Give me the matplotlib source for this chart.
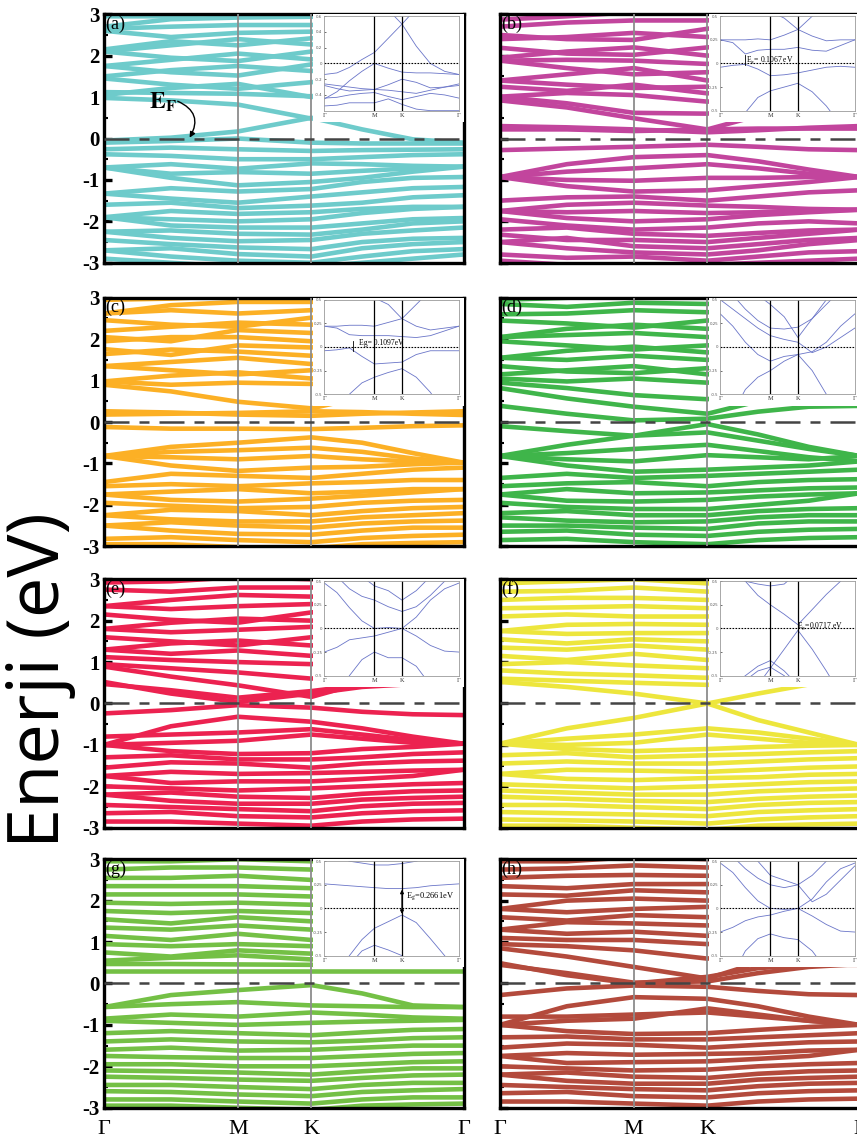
import matplotlib
matplotlib.use("Agg")
import matplotlib.pyplot as plt
from matplotlib.patches import Rectangle

plt.rcParams["mathtext.fontset"] = "stix"
SERIF = ["Liberation Serif", "DejaVu Serif"]

# k-path: Gamma - M - K - Gamma (normalised length)
k_path = [0.0, 0.186, 0.372, 0.577, 0.718, 0.859, 1.0]
k_inset = [0.0, 0.093, 0.186, 0.279, 0.372, 0.475, 0.577, 0.683, 0.788, 0.894, 1.0]
k_M, k_K = 0.372, 0.577
k_labels = ["Γ", "M", "K", "Γ"]

# ---------------- band energies (eV) at the k_path points ----------------
bands_a = [
    [-0.05, 0.02, 0.17, 0.50, 0.22, -0.02, -0.10],
    [-0.10, -0.06, 0.00, -0.10, -0.12, -0.12, -0.12],
    [0.98, 0.92, 0.82, 0.48, 0.80, 1.10, 1.30],
    [1.12, 1.10, 1.08, 1.02, 1.20, 1.40, 1.50],
    [1.05, 1.22, 1.32, 1.00, 1.30, 1.50, 1.60],
    [1.45, 1.30, 1.20, 1.36, 1.50, 1.60, 1.70],
    [1.50, 1.65, 1.75, 1.63, 1.70, 1.80, 1.80],
    [1.75, 1.60, 1.52, 1.79, 1.80, 1.90, 1.90],
    [1.75, 1.90, 2.05, 1.91, 2.00, 2.00, 2.00],
    [2.10, 1.95, 1.87, 2.10, 2.10, 2.10, 2.10],
    [2.10, 2.25, 2.40, 2.27, 2.30, 2.30, 2.30],
    [2.15, 2.35, 2.25, 2.42, 2.50, 2.50, 2.50],
    [2.60, 2.45, 2.55, 2.58, 2.60, 2.60, 2.60],
    [2.65, 2.70, 2.74, 2.74, 2.80, 2.80, 2.80],
    [2.70, 2.88, 2.92, 2.94, 3.00, 3.00, 3.00],
    [2.95, 2.95, 3.05, 3.10, 3.10, 3.10, 3.10],
    [-0.26, -0.22, -0.26, -0.30, -0.28, -0.27, -0.26],
    [-0.38, -0.42, -0.50, -0.50, -0.45, -0.40, -0.38],
    [-0.70, -0.62, -0.73, -0.60, -0.62, -0.66, -0.68],
    [-0.70, -0.85, -0.81, -0.85, -0.78, -0.72, -0.68],
    [-0.70, -0.95, -1.13, -1.05, -0.95, -0.80, -0.68],
    [-1.33, -1.20, -1.28, -1.22, -1.05, -0.95, -0.93],
    [-1.33, -1.45, -1.55, -1.40, -1.30, -1.20, -1.17],
    [-1.60, -1.55, -1.68, -1.62, -1.55, -1.42, -1.37],
    [-1.90, -1.75, -1.82, -1.78, -1.70, -1.65, -1.65],
    [-1.90, -1.95, -2.00, -1.95, -1.80, -1.70, -1.65],
    [-1.90, -2.10, -2.15, -2.15, -2.05, -1.95, -1.92],
    [-2.25, -2.22, -2.30, -2.32, -2.20, -2.05, -2.00],
    [-2.25, -2.40, -2.48, -2.45, -2.30, -2.22, -2.15],
    [-2.45, -2.55, -2.63, -2.67, -2.50, -2.42, -2.40],
    [-2.70, -2.65, -2.79, -2.85, -2.65, -2.55, -2.50],
    [-2.70, -2.85, -2.95, -3.00, -2.85, -2.72, -2.67],
    [-2.90, -3.00, -3.10, -3.10, -3.00, -2.90, -2.80],
]

bands_b = [
    [0.30, 0.27, 0.22, 0.15, 0.20, 0.26, 0.30],
    [0.22, 0.22, 0.18, 0.22, 0.24, 0.24, 0.24],
    [0.92, 0.75, 0.49, 0.22, 0.55, 0.80, 1.00],
    [1.01, 0.85, 0.62, 0.60, 0.80, 1.00, 1.10],
    [1.01, 1.10, 1.05, 0.89, 1.00, 1.10, 1.20],
    [1.25, 1.15, 1.30, 1.09, 1.20, 1.30, 1.40],
    [1.40, 1.30, 1.22, 1.25, 1.40, 1.50, 1.60],
    [1.40, 1.55, 1.70, 1.40, 1.50, 1.60, 1.70],
    [1.88, 1.70, 1.55, 1.60, 1.70, 1.80, 1.90],
    [1.88, 1.90, 1.88, 1.80, 1.90, 2.00, 2.10],
    [1.95, 2.10, 2.20, 2.00, 2.10, 2.20, 2.30],
    [2.19, 2.05, 2.02, 2.20, 2.30, 2.40, 2.50],
    [2.40, 2.45, 2.55, 2.45, 2.60, 2.60, 2.70],
    [2.50, 2.40, 2.38, 2.65, 2.80, 2.80, 2.80],
    [2.70, 2.80, 2.85, 2.85, 3.00, 3.00, 3.00],
    [2.87, 2.95, 3.05, 3.05, 3.10, 3.10, 3.10],
    [-0.28, -0.24, -0.20, -0.15, -0.20, -0.26, -0.28],
    [-0.93, -0.62, -0.45, -0.40, -0.55, -0.75, -0.93],
    [-0.93, -0.80, -0.72, -0.62, -0.72, -0.85, -0.93],
    [-0.93, -1.00, -1.02, -0.95, -0.95, -0.93, -0.93],
    [-0.93, -1.15, -1.28, -1.25, -1.15, -1.05, -0.93],
    [-1.50, -1.42, -1.40, -1.50, -1.40, -1.30, -1.25],
    [-1.75, -1.60, -1.55, -1.62, -1.65, -1.70, -1.72],
    [-1.75, -1.78, -1.75, -1.80, -1.78, -1.74, -1.72],
    [-1.75, -1.92, -2.00, -1.95, -1.85, -1.78, -1.72],
    [-1.95, -2.10, -2.20, -2.15, -2.05, -2.00, -2.05],
    [-2.20, -2.15, -2.30, -2.35, -2.28, -2.22, -2.20],
    [-2.32, -2.45, -2.45, -2.50, -2.40, -2.30, -2.20],
    [-2.50, -2.40, -2.60, -2.65, -2.55, -2.45, -2.40],
    [-2.50, -2.65, -2.75, -2.80, -2.70, -2.55, -2.45],
    [-2.80, -2.88, -2.85, -2.95, -2.85, -2.75, -2.72],
    [-2.95, -3.05, -3.05, -3.05, -3.00, -2.95, -2.90],
]

bands_c = [
    [0.26, 0.23, 0.18, 0.15, 0.20, 0.23, 0.26],
    [0.18, 0.20, 0.22, 0.26, 0.24, 0.20, 0.17],
    [0.90, 0.74, 0.49, 0.33, 0.60, 0.85, 1.00],
    [0.98, 0.90, 0.95, 0.92, 1.00, 1.10, 1.20],
    [0.98, 1.12, 1.20, 1.05, 1.20, 1.30, 1.40],
    [1.35, 1.25, 1.15, 1.25, 1.40, 1.50, 1.60],
    [1.35, 1.45, 1.55, 1.40, 1.50, 1.60, 1.70],
    [1.64, 1.75, 1.70, 1.60, 1.70, 1.80, 1.90],
    [1.76, 1.62, 1.85, 1.80, 1.90, 2.00, 2.00],
    [1.95, 2.05, 2.05, 1.95, 2.00, 2.10, 2.10],
    [2.05, 1.95, 2.22, 2.15, 2.20, 2.30, 2.30],
    [2.20, 2.30, 2.40, 2.35, 2.40, 2.50, 2.50],
    [2.46, 2.35, 2.30, 2.52, 2.60, 2.60, 2.60],
    [2.62, 2.70, 2.62, 2.70, 2.80, 2.80, 2.80],
    [2.62, 2.82, 2.90, 2.90, 3.00, 3.00, 3.00],
    [2.95, 2.98, 3.05, 3.05, 3.10, 3.10, 3.10],
    [-0.12, -0.16, -0.16, -0.17, -0.14, -0.10, -0.08],
    [-0.82, -0.60, -0.50, -0.37, -0.50, -0.75, -0.98],
    [-0.82, -0.85, -0.90, -0.82, -0.90, -0.95, -0.98],
    [-0.82, -0.72, -0.68, -0.62, -0.72, -0.88, -0.98],
    [-0.82, -1.05, -1.18, -1.10, -1.08, -1.02, -0.98],
    [-1.45, -1.25, -1.30, -1.35, -1.25, -1.15, -1.10],
    [-1.55, -1.50, -1.55, -1.48, -1.45, -1.40, -1.40],
    [-1.75, -1.68, -1.62, -1.72, -1.68, -1.62, -1.62],
    [-1.75, -1.88, -1.92, -1.85, -1.78, -1.70, -1.62],
    [-1.95, -2.02, -2.08, -2.05, -1.95, -1.90, -1.88],
    [-2.25, -2.12, -2.15, -2.25, -2.15, -2.08, -2.05],
    [-2.25, -2.35, -2.40, -2.40, -2.30, -2.25, -2.20],
    [-2.50, -2.42, -2.50, -2.55, -2.45, -2.40, -2.38],
    [-2.50, -2.62, -2.70, -2.72, -2.62, -2.55, -2.55],
    [-2.82, -2.78, -2.85, -2.90, -2.80, -2.75, -2.72],
    [-2.95, -2.95, -3.02, -3.05, -2.95, -2.92, -2.90],
]

bands_d = [
    [0.39, 0.20, 0.04, 0.08, 0.25, 0.37, 0.39],
    [0.82, 0.57, 0.37, 0.20, 0.50, 0.80, 1.00],
    [0.95, 0.82, 0.65, 0.55, 0.80, 1.00, 1.10],
    [1.05, 0.98, 1.05, 0.95, 1.10, 1.20, 1.30],
    [1.15, 1.25, 1.35, 1.15, 1.25, 1.35, 1.40],
    [1.35, 1.22, 1.18, 1.30, 1.40, 1.50, 1.60],
    [1.55, 1.50, 1.60, 1.50, 1.60, 1.70, 1.70],
    [1.55, 1.72, 1.82, 1.68, 1.75, 1.80, 1.85],
    [1.95, 1.85, 1.75, 1.85, 1.90, 2.00, 2.00],
    [2.05, 2.10, 2.15, 2.05, 2.10, 2.20, 2.20],
    [2.05, 2.25, 2.35, 2.25, 2.30, 2.40, 2.40],
    [2.45, 2.38, 2.28, 2.45, 2.50, 2.60, 2.60],
    [2.60, 2.62, 2.70, 2.65, 2.70, 2.80, 2.80],
    [2.85, 2.78, 2.88, 2.85, 2.90, 3.00, 3.00],
    [2.95, 3.00, 3.05, 3.05, 3.10, 3.10, 3.10],
    [-0.10, -0.22, -0.33, -0.05, -0.30, -0.60, -0.82],
    [-0.82, -0.55, -0.33, -0.25, -0.45, -0.65, -0.82],
    [-0.82, -0.90, -0.95, -0.80, -0.85, -0.90, -0.82],
    [-0.82, -0.75, -0.65, -0.55, -0.70, -0.85, -0.95],
    [-0.82, -1.05, -1.20, -1.15, -1.10, -1.05, -0.95],
    [-1.35, -1.25, -1.35, -1.30, -1.25, -1.20, -1.15],
    [-1.55, -1.48, -1.45, -1.55, -1.45, -1.40, -1.38],
    [-1.75, -1.62, -1.72, -1.70, -1.65, -1.60, -1.58],
    [-1.75, -1.90, -1.92, -1.88, -1.80, -1.75, -1.72],
    [-1.95, -2.05, -2.10, -2.10, -2.00, -1.90, -1.72],
    [-2.20, -2.15, -2.25, -2.25, -2.15, -2.10, -2.08],
    [-2.30, -2.38, -2.42, -2.40, -2.30, -2.25, -2.25],
    [-2.50, -2.50, -2.55, -2.58, -2.45, -2.40, -2.40],
    [-2.65, -2.62, -2.72, -2.75, -2.65, -2.60, -2.58],
    [-2.85, -2.82, -2.90, -2.95, -2.85, -2.80, -2.78],
]

bands_e = [
    [0.52, 0.24, 0.04, 0.24, 0.40, 0.47, 0.47],
    [0.47, 0.32, 0.14, 0.30, 0.45, 0.50, 0.52],
    [0.89, 0.65, 0.44, 0.16, 0.50, 0.80, 1.00],
    [0.95, 0.85, 0.75, 0.60, 0.80, 1.00, 1.10],
    [1.12, 1.05, 1.00, 0.95, 1.10, 1.20, 1.30],
    [1.30, 1.20, 1.28, 1.15, 1.30, 1.40, 1.50],
    [1.30, 1.45, 1.52, 1.40, 1.50, 1.60, 1.60],
    [1.60, 1.50, 1.40, 1.60, 1.70, 1.75, 1.80],
    [1.80, 1.72, 1.78, 1.85, 1.85, 1.90, 1.95],
    [1.80, 1.95, 2.05, 2.00, 2.05, 2.10, 2.10],
    [2.15, 2.02, 1.95, 2.20, 2.25, 2.30, 2.30],
    [2.35, 2.28, 2.35, 2.40, 2.45, 2.50, 2.50],
    [2.35, 2.50, 2.62, 2.58, 2.65, 2.70, 2.70],
    [2.75, 2.70, 2.80, 2.80, 2.85, 2.90, 2.90],
    [2.92, 2.95, 3.05, 3.00, 3.05, 3.10, 3.10],
    [-0.24, -0.16, -0.04, -0.10, -0.20, -0.26, -0.28],
    [-1.00, -0.55, -0.32, -0.44, -0.60, -0.80, -0.97],
    [-1.00, -0.95, -0.90, -0.75, -0.85, -0.95, -0.97],
    [-0.80, -0.75, -0.70, -0.62, -0.75, -0.88, -0.97],
    [-1.00, -1.15, -1.22, -1.20, -1.10, -1.05, -0.97],
    [-1.30, -1.25, -1.35, -1.35, -1.30, -1.22, -1.18],
    [-1.55, -1.42, -1.45, -1.55, -1.45, -1.40, -1.38],
    [-1.75, -1.65, -1.70, -1.68, -1.65, -1.62, -1.60],
    [-1.75, -1.92, -1.88, -1.88, -1.82, -1.75, -1.60],
    [-2.00, -2.05, -2.10, -2.05, -2.00, -1.95, -1.92],
    [-2.20, -2.15, -2.25, -2.28, -2.18, -2.12, -2.10],
    [-2.20, -2.35, -2.42, -2.42, -2.32, -2.28, -2.25],
    [-2.45, -2.50, -2.55, -2.60, -2.48, -2.42, -2.40],
    [-2.65, -2.62, -2.72, -2.75, -2.65, -2.60, -2.58],
    [-2.85, -2.85, -2.90, -2.95, -2.85, -2.80, -2.78],
]

bands_f = [
    [0.52, 0.40, 0.24, 0.00, 0.24, 0.46, 0.52],
    [-0.97, -0.60, -0.35, 0.00, -0.40, -0.70, -1.00],
    [0.60, 0.55, 0.50, 0.45, 0.55, 0.60, 0.60],
    [0.80, 0.72, 0.68, 0.62, 0.80, 0.90, 1.00],
    [0.95, 1.00, 0.92, 0.85, 1.00, 1.10, 1.20],
    [1.15, 1.05, 1.20, 1.05, 1.20, 1.30, 1.40],
    [1.35, 1.30, 1.40, 1.30, 1.40, 1.50, 1.60],
    [1.55, 1.45, 1.55, 1.50, 1.60, 1.70, 1.70],
    [1.75, 1.68, 1.70, 1.70, 1.80, 1.85, 1.90],
    [1.75, 1.90, 1.92, 1.90, 1.95, 2.00, 2.00],
    [2.10, 2.15, 2.10, 2.10, 2.15, 2.20, 2.20],
    [2.30, 2.32, 2.35, 2.30, 2.35, 2.40, 2.40],
    [2.50, 2.55, 2.55, 2.50, 2.55, 2.60, 2.60],
    [2.70, 2.72, 2.80, 2.70, 2.75, 2.80, 2.80],
    [2.90, 2.95, 3.00, 2.90, 2.95, 3.00, 3.00],
    [-0.97, -1.00, -0.95, -0.75, -0.85, -0.95, -1.00],
    [-0.97, -0.85, -0.75, -0.60, -0.70, -0.85, -1.00],
    [-0.97, -1.10, -1.15, -1.10, -1.05, -1.02, -1.00],
    [-1.25, -1.20, -1.30, -1.25, -1.22, -1.18, -1.15],
    [-1.45, -1.40, -1.45, -1.45, -1.40, -1.35, -1.32],
    [-1.70, -1.60, -1.62, -1.65, -1.60, -1.55, -1.52],
    [-1.70, -1.82, -1.85, -1.80, -1.78, -1.72, -1.70],
    [-1.95, -2.00, -2.05, -2.00, -1.95, -1.90, -1.88],
    [-2.10, -2.15, -2.20, -2.20, -2.12, -2.08, -2.05],
    [-2.25, -2.30, -2.35, -2.38, -2.30, -2.25, -2.22],
    [-2.45, -2.45, -2.50, -2.55, -2.45, -2.40, -2.38],
    [-2.62, -2.65, -2.68, -2.72, -2.62, -2.58, -2.55],
    [-2.80, -2.82, -2.85, -2.90, -2.80, -2.75, -2.72],
    [-2.95, -2.95, -3.00, -3.05, -2.95, -2.92, -2.90],
]

bands_g = [
    [0.29, 0.29, 0.29, 0.29, 0.29, 0.29, 0.29],
    [0.47, 0.47, 0.46, 0.45, 0.50, 0.50, 0.50],
    [0.55, 0.62, 0.68, 0.58, 0.70, 0.80, 0.90],
    [0.75, 0.65, 0.80, 0.72, 0.85, 0.95, 1.05],
    [0.95, 0.90, 0.95, 0.90, 1.00, 1.10, 1.20],
    [1.15, 1.05, 1.20, 1.05, 1.20, 1.30, 1.40],
    [1.35, 1.30, 1.40, 1.30, 1.40, 1.50, 1.60],
    [1.55, 1.45, 1.60, 1.50, 1.60, 1.70, 1.70],
    [1.75, 1.70, 1.75, 1.70, 1.80, 1.85, 1.90],
    [1.95, 1.92, 1.95, 1.90, 1.95, 2.00, 2.00],
    [2.15, 2.15, 2.15, 2.10, 2.15, 2.20, 2.20],
    [2.35, 2.35, 2.35, 2.30, 2.35, 2.40, 2.40],
    [2.55, 2.55, 2.60, 2.50, 2.55, 2.60, 2.60],
    [2.75, 2.80, 2.80, 2.75, 2.80, 2.80, 2.80],
    [2.95, 2.95, 3.00, 2.95, 3.00, 3.00, 3.00],
    [-0.57, -0.28, -0.16, -0.04, -0.24, -0.53, -0.57],
    [-0.57, -0.50, -0.45, -0.53, -0.55, -0.57, -0.57],
    [-0.85, -0.75, -0.80, -0.70, -0.75, -0.82, -0.85],
    [-0.90, -0.95, -1.00, -0.95, -0.92, -0.90, -0.88],
    [-1.20, -1.15, -1.20, -1.25, -1.18, -1.12, -1.10],
    [-1.40, -1.35, -1.40, -1.42, -1.38, -1.32, -1.30],
    [-1.60, -1.55, -1.62, -1.60, -1.55, -1.50, -1.50],
    [-1.75, -1.78, -1.80, -1.80, -1.75, -1.70, -1.68],
    [-1.95, -1.95, -2.00, -2.00, -1.95, -1.90, -1.88],
    [-2.10, -2.12, -2.15, -2.20, -2.12, -2.05, -2.05],
    [-2.25, -2.28, -2.32, -2.35, -2.28, -2.22, -2.20],
    [-2.45, -2.45, -2.50, -2.55, -2.45, -2.40, -2.40],
    [-2.60, -2.62, -2.68, -2.72, -2.62, -2.58, -2.55],
    [-2.80, -2.80, -2.85, -2.90, -2.80, -2.75, -2.75],
    [-2.95, -2.95, -3.00, -3.05, -2.95, -2.92, -2.90],
]

bands_h = [
    [0.49, 0.20, 0.00, 0.16, 0.37, 0.45, 0.45],
    [0.45, 0.25, 0.02, 0.05, 0.25, 0.40, 0.47],
    [0.85, 0.65, 0.40, 0.12, 0.50, 0.80, 1.00],
    [0.95, 0.90, 0.80, 0.60, 0.80, 1.00, 1.10],
    [1.10, 1.05, 1.05, 0.95, 1.10, 1.20, 1.30],
    [1.30, 1.20, 1.25, 1.15, 1.30, 1.40, 1.50],
    [1.30, 1.48, 1.45, 1.40, 1.50, 1.60, 1.60],
    [1.60, 1.52, 1.65, 1.60, 1.70, 1.75, 1.80],
    [1.80, 1.72, 1.80, 1.85, 1.85, 1.90, 1.95],
    [1.80, 2.00, 2.05, 2.00, 2.05, 2.10, 2.10],
    [2.15, 2.12, 2.25, 2.20, 2.25, 2.30, 2.30],
    [2.35, 2.30, 2.40, 2.40, 2.45, 2.50, 2.50],
    [2.55, 2.60, 2.62, 2.60, 2.65, 2.70, 2.70],
    [2.75, 2.78, 2.85, 2.80, 2.85, 2.90, 2.90],
    [2.95, 2.95, 3.05, 3.00, 3.05, 3.10, 3.10],
    [-0.28, -0.12, -0.05, -0.08, -0.18, -0.26, -0.28],
    [-1.00, -0.55, -0.33, -0.37, -0.55, -0.80, -1.00],
    [-1.00, -0.90, -0.85, -0.60, -0.75, -0.90, -1.00],
    [-0.80, -0.80, -0.75, -0.70, -0.80, -0.90, -1.00],
    [-1.00, -1.15, -1.22, -1.20, -1.12, -1.05, -1.00],
    [-1.30, -1.28, -1.35, -1.35, -1.30, -1.25, -1.20],
    [-1.55, -1.45, -1.48, -1.55, -1.48, -1.42, -1.40],
    [-1.75, -1.68, -1.72, -1.70, -1.68, -1.62, -1.60],
    [-1.75, -1.92, -1.90, -1.88, -1.82, -1.75, -1.60],
    [-2.00, -2.05, -2.10, -2.08, -2.00, -1.95, -1.92],
    [-2.20, -2.15, -2.25, -2.28, -2.18, -2.12, -2.10],
    [-2.20, -2.35, -2.42, -2.42, -2.32, -2.28, -2.25],
    [-2.45, -2.50, -2.55, -2.58, -2.48, -2.42, -2.40],
    [-2.65, -2.62, -2.72, -2.75, -2.65, -2.60, -2.58],
    [-2.85, -2.85, -2.90, -2.95, -2.85, -2.80, -2.78],
]

# ---------------- zoomed bands near E_F (inset), at the k_inset points ----------------
inset_a = [
    [-0.14, -0.12, -0.05, 0.05, 0.14, 0.32, 0.50, 0.22, 0.00, -0.10, -0.14],
    [1.00, 0.95, 0.90, 0.85, 0.80, 0.68, 0.50, 0.70, 0.90, 1.00, 1.05],
    [-0.45, -0.36, -0.22, -0.10, 0.00, -0.06, -0.11, -0.12, -0.12, -0.13, -0.14],
    [-0.26, -0.28, -0.30, -0.32, -0.33, -0.27, -0.20, -0.24, -0.31, -0.30, -0.26],
    [-0.28, -0.32, -0.35, -0.34, -0.33, -0.34, -0.36, -0.38, -0.34, -0.30, -0.28],
    [-0.44, -0.43, -0.40, -0.38, -0.37, -0.42, -0.46, -0.42, -0.38, -0.40, -0.44],
    [-0.54, -0.53, -0.50, -0.50, -0.50, -0.45, -0.52, -0.58, -0.60, -0.60, -0.60],
]
inset_b = [
    [0.25, 0.22, 0.10, 0.14, 0.15, 0.15, 0.17, 0.14, 0.13, 0.19, 0.25],
    [0.25, 0.25, 0.25, 0.26, 0.25, 0.30, 0.36, 0.29, 0.24, 0.25, 0.25],
    [0.90, 0.80, 0.70, 0.60, 0.55, 0.48, 0.36, 0.50, 0.65, 0.80, 0.90],
    [-0.04, -0.02, -0.01, -0.06, -0.13, -0.12, -0.10, -0.07, -0.04, -0.03, -0.04],
    [-0.90, -0.70, -0.52, -0.36, -0.29, -0.25, -0.21, -0.30, -0.45, -0.65, -0.90],
]
inset_c = [
    [0.22, 0.20, 0.13, 0.12, 0.12, 0.12, 0.11, 0.10, 0.12, 0.17, 0.22],
    [0.22, 0.22, 0.23, 0.23, 0.22, 0.26, 0.30, 0.22, 0.18, 0.20, 0.22],
    [0.90, 0.80, 0.70, 0.60, 0.52, 0.45, 0.30, 0.45, 0.60, 0.75, 0.90],
    [-0.04, -0.03, -0.01, -0.10, -0.18, -0.17, -0.16, -0.08, -0.04, -0.04, -0.04],
    [-0.90, -0.70, -0.50, -0.38, -0.32, -0.27, -0.23, -0.32, -0.48, -0.70, -0.90],
]
inset_d = [
    [0.35, 0.22, 0.05, -0.08, -0.15, -0.10, -0.08, -0.05, 0.05, 0.22, 0.35],
    [0.70, 0.55, 0.40, 0.28, 0.20, 0.19, 0.21, 0.30, 0.45, 0.60, 0.70],
    [0.90, 0.80, 0.70, 0.55, 0.45, 0.32, 0.10, 0.30, 0.50, 0.70, 0.90],
    [0.50, 0.40, 0.30, 0.20, 0.12, 0.08, 0.05, -0.06, 0.00, 0.10, 0.20],
    [-0.90, -0.70, -0.45, -0.32, -0.25, -0.15, -0.08, -0.25, -0.50, -0.70, -0.90],
]
inset_e = [
    [0.48, 0.38, 0.22, 0.08, 0.00, 0.01, 0.00, 0.12, 0.30, 0.42, 0.48],
    [-0.25, -0.20, -0.12, -0.10, -0.08, -0.04, 0.00, -0.08, -0.18, -0.24, -0.25],
    [0.70, 0.55, 0.42, 0.34, 0.30, 0.23, 0.18, 0.23, 0.35, 0.50, 0.60],
    [0.90, 0.80, 0.65, 0.55, 0.45, 0.40, 0.30, 0.40, 0.55, 0.70, 0.90],
    [-0.90, -0.70, -0.50, -0.33, -0.25, -0.31, -0.31, -0.40, -0.60, -0.75, -0.90],
]
inset_f = [
    [0.90, 0.70, 0.50, 0.35, 0.25, 0.15, 0.04, 0.20, 0.36, 0.50, 0.70],
    [-0.90, -0.85, -0.75, -0.60, -0.42, -0.22, -0.02, -0.22, -0.45, -0.70, -0.90],
    [0.60, 0.55, 0.50, 0.47, 0.45, 0.47, 0.60, 0.70, 0.80, 0.90, 0.90],
    [-0.70, -0.60, -0.50, -0.40, -0.34, -0.45, -0.60, -0.75, -0.90, -0.90, -0.90],
    [-0.80, -0.70, -0.55, -0.45, -0.41, -0.50, -0.65, -0.80, -0.90, -0.90, -0.90],
]
inset_g = [
    [0.26, 0.25, 0.24, 0.23, 0.22, 0.21, 0.21, 0.22, 0.24, 0.25, 0.26],
    [0.60, 0.55, 0.50, 0.48, 0.46, 0.46, 0.475, 0.50, 0.55, 0.60, 0.60],
    [-0.90, -0.70, -0.50, -0.33, -0.21, -0.14, -0.07, -0.15, -0.32, -0.50, -0.70],
    [-0.90, -0.80, -0.60, -0.45, -0.39, -0.44, -0.50, -0.60, -0.80, -0.90, -0.90],
]
inset_h = [
    [0.48, 0.38, 0.22, 0.08, 0.00, -0.01, 0.00, 0.10, 0.28, 0.42, 0.48],
    [-0.25, -0.20, -0.13, -0.09, -0.07, -0.03, 0.00, -0.08, -0.17, -0.24, -0.25],
    [0.70, 0.55, 0.42, 0.32, 0.25, 0.22, 0.25, 0.07, 0.15, 0.30, 0.45],
    [0.90, 0.80, 0.65, 0.50, 0.35, 0.30, 0.25, 0.35, 0.50, 0.70, 0.90],
    [-0.90, -0.70, -0.45, -0.32, -0.27, -0.31, -0.33, -0.45, -0.65, -0.80, -0.90],
]

panel_tags = ["(a)", "(b)", "(c)", "(d)", "(e)", "(f)", "(g)", "(h)"]
panel_colors = ["#6ecbcb", "#c2459d", "#fcb025", "#3fb54a",
                "#ec2250", "#ede63d", "#74c045", "#b34a3c"]
panel_bands = [bands_a, bands_b, bands_c, bands_d, bands_e, bands_f, bands_g, bands_h]
panel_insets = [inset_a, inset_b, inset_c, inset_d, inset_e, inset_f, inset_g, inset_h]

fig = plt.figure(figsize=(8.57, 11.4), dpi=100)
col_x = [0.1214, 0.5834]
row_y = [0.7695, 0.5208, 0.2739, 0.0283]
W, H = 0.4195, 0.218

for i in range(8):
    row, col = i // 2, i % 2
    ax = fig.add_axes([col_x[col], row_y[row], W, H])
    for b in panel_bands[i]:
        ax.plot(k_path, b, color=panel_colors[i], lw=3.3,
                solid_joinstyle="round", solid_capstyle="butt", zorder=2)
    ax.axvline(k_M, color="#8c8c8c", lw=1.3, zorder=3)
    ax.axvline(k_K, color="#8c8c8c", lw=1.3, zorder=3)
    ax.axhline(0, color="#444444", lw=1.8, dashes=(10, 4, 4, 4), zorder=3)
    ax.add_patch(Rectangle((0.582, 0.565), 0.418, 0.435, transform=ax.transAxes,
                           facecolor="white", edgecolor="none", zorder=4))
    ax.set_xlim(0, 1)
    ax.set_ylim(-3, 3)
    for s in ax.spines.values():
        s.set_linewidth(2.4)
    ax.set_yticks(range(-3, 4))
    ax.set_yticks([-2.5, -1.5, -0.5, 0.5, 1.5, 2.5], minor=True)
    ax.tick_params(axis="y", which="major", direction="in", length=6, width=2.4,
                   labelsize=15, pad=3)
    ax.tick_params(axis="y", which="minor", direction="in", length=3, width=1.5)
    if col == 0:
        ax.set_yticklabels([str(v) for v in range(-3, 4)],
                           fontweight="bold", family=SERIF)
    else:
        ax.set_yticklabels([])
    if row == 3:
        ax.set_xticks([0, k_M, k_K, 1])
        ax.set_xticklabels(k_labels, family=SERIF, fontsize=16)
        ax.tick_params(axis="x", length=0, pad=9)
    else:
        ax.set_xticks([])
    ax.text(0.004, 0.995, panel_tags[i], transform=ax.transAxes, ha="left", va="top",
            fontsize=13, family=SERIF, zorder=6)

    # zoomed view around the Fermi level
    ins = ax.inset_axes([0.613, 0.612, 0.374, 0.38])
    ins.set_zorder(5)
    for b in panel_insets[i]:
        ins.plot(k_inset, b, color="#6a75c8", lw=0.6)
    ins.axvline(k_M, color="black", lw=0.9)
    ins.axvline(k_K, color="black", lw=0.9)
    ins.axhline(0, color="black", lw=0.8, ls=(0, (1.5, 1.2)))
    ins.set_xlim(0, 1)
    if i == 0:
        ins.set_ylim(-0.6, 0.6)
        ins.set_yticks([-0.4, -0.2, 0, 0.2, 0.4, 0.6])
        ins.set_yticklabels(["-0.4", "-0.2", "0", "0.2", "0.4", "0.6"])
    else:
        ins.set_ylim(-0.5, 0.5)
        ins.set_yticks([-0.5, -0.25, 0, 0.25, 0.5])
        ins.set_yticklabels(["-0.5", "-0.25", "0", "0.25", "0.5"])
    ins.set_xticks([0, k_M, k_K, 1])
    ins.set_xticklabels(k_labels, family=SERIF, fontsize=4.5)
    ins.tick_params(axis="y", labelsize=2.8, length=1.2, width=0.4, pad=1.5,
                    labelcolor="#555555", direction="in")
    ins.tick_params(axis="x", length=0, pad=1.5, labelcolor="#333333")
    for s in ins.spines.values():
        s.set_linewidth(0.6)
        s.set_color("#9a9a9a")

    if i == 0:
        ax.text(0.125, 0.87, r"$\mathbf{E_F}$", fontsize=17, ha="left", va="center", zorder=6)
        ax.annotate("", xy=(0.238, 0.02), xytext=(0.205, 0.9),
                    arrowprops=dict(arrowstyle="-|>", color="black", lw=1.0,
                                    mutation_scale=8, shrinkA=0, shrinkB=0,
                                    connectionstyle="arc3,rad=-0.55"), zorder=6)
    elif i == 1:
        ins.plot([0.18, 0.18], [-0.02, 0.09], color="black", lw=0.6)
        ins.text(0.19, 0.04, r"E$_\mathrm{g}$= 0.1067 eV", fontsize=5.5,
                 family=SERIF, va="center")
    elif i == 2:
        ins.plot([0.21, 0.21], [-0.04, 0.06], color="black", lw=0.6)
        ins.text(0.26, 0.04, "Eg= 0.1097eV", fontsize=5.5, family=SERIF, va="center")
    elif i == 5:
        ins.text(0.57, 0.025, r"E$_\mathrm{g}$=0.0717 eV", fontsize=5.5,
                 family=SERIF, va="center")
    elif i == 6:
        ins.annotate("", xy=(k_K, -0.06), xytext=(k_K, 0.2),
                     arrowprops=dict(arrowstyle="<|-|>", color="black", lw=0.9,
                                     mutation_scale=5, shrinkA=0, shrinkB=0))
        ins.text(0.61, 0.13, r"E$_\mathrm{g}$=0.2661eV", fontsize=6,
                 family=SERIF, va="center")

fig.text(0.047, 0.4035, "Enerji (eV)", rotation=90, ha="center", va="center",
         fontsize=52, family=["Open Sans", "DejaVu Sans"])

fig.savefig("out.png", dpi=100)
